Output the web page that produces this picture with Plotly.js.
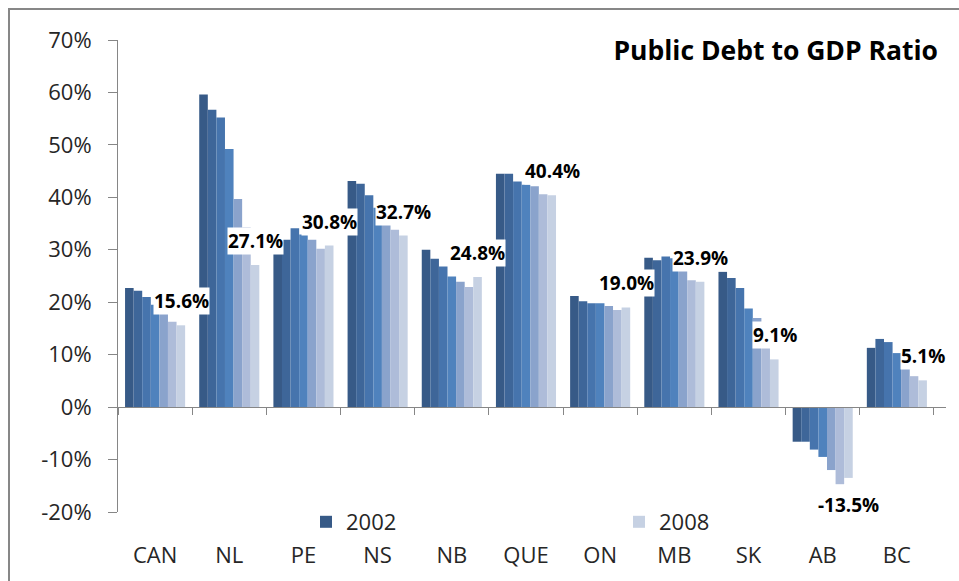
<!DOCTYPE html>
<html>
<head>
<meta charset="utf-8">
<script src="https://cdn.plot.ly/plotly-3.0.1.min.js"></script>
<style>
html,body{margin:0;padding:0;background:#fff;}
#chart{width:959px;height:581px;}
</style>
</head>
<body>
<div id="chart"></div>
<script>
const categories = ['CAN','NL','PE','NS','NB','QUE','ON','MB','SK','AB','BC'];
const years = ['2002','2003','2004','2005','2006','2007','2008'];
const v2002 = [22.7, 59.6, 30.4, 43.1, 30.0, 44.5, 21.2, 28.5, 25.8, -6.6, 11.3];
const v2003 = [22.2, 56.7, 31.9, 42.6, 28.3, 44.5, 20.2, 28.0, 24.6, -6.6, 13.0];
const v2004 = [21.0, 55.2, 34.1, 40.4, 26.8, 43.0, 19.8, 28.7, 22.7, -8.1, 12.4];
const v2005 = [19.5, 49.2, 32.9, 38.0, 24.9, 42.4, 19.8, 28.4, 18.8, -9.5, 10.3];
const v2006 = [18.1, 39.7, 31.9, 35.5, 23.9, 42.1, 19.3, 26.1, 17.0, -12.0, 7.9];
const v2007 = [16.3, 34.3, 30.2, 33.8, 22.9, 40.6, 18.5, 24.2, 14.4, -14.7, 5.9];
const v2008 = [15.6, 27.1, 30.8, 32.7, 24.8, 40.4, 19.0, 23.9, 9.1, -13.5, 5.1];
const yTicks = [-20, -10, 0, 10, 20, 30, 40, 50, 60, 70];
const yTickText = yTicks.map(t => t + '%');

const seriesValues = [v2002, v2003, v2004, v2005, v2006, v2007, v2008];
const colors = ['#375a87','#3e6699','#4674ad','#4f82bd','#8aa3cc','#aebcd9','#c6d1e3'];
const legendShown = [true,false,false,false,false,false,true];

const W = 959, H = 581;
const margin = {l:118, r:13, t:40, b:69};
const pw = W - margin.l - margin.r;
const ph = H - margin.t - margin.b;
const yRange = [-20, 70];
const bargap = 0.19;
const zeroFrac = (0 - yRange[0]) / (yRange[1] - yRange[0]);

const traces = seriesValues.map((vals, i) => ({
  type: 'bar',
  name: years[i],
  x: categories,
  y: vals,
  marker: {color: colors[i], line: {width: 0}},
  showlegend: legendShown[i],
  hoverinfo: 'x+y+name'
}));

// labels on the 2008 series
const catW = pw / categories.length;
const barW = catW * (1 - bargap) / years.length;
const lastShift = barW * (years.length - 1) / 2;
const annotations = categories.map((c, i) => {
  const v = v2008[i];
  return {
    x: c, y: v, xref: 'x', yref: 'y',
    xshift: lastShift,
    yshift: v >= 0 ? 24 : -27,
    text: v.toFixed(1) + '%',
    showarrow: false,
    bgcolor: '#ffffff',
    borderpad: 0,
    font: {family: 'Open Sans, sans-serif', size: 19, color: '#000000', weight: 'bold'}
  };
});

const px2paperX = p => (p - margin.l) / pw;
const px2paperY = p => (H - margin.b - p) / ph;

const layout = {
  width: W, height: H,
  margin: margin,
  paper_bgcolor: '#ffffff',
  plot_bgcolor: '#ffffff',
  font: {family: 'Open Sans, sans-serif', size: 22, color: '#262626'},
  title: {
    text: '<b>Public Debt to GDP Ratio</b>',
    x: 938 / W, xanchor: 'right', xref: 'container',
    y: 1 - 51 / H, yanchor: 'middle', yref: 'container',
    font: {family: 'Open Sans, sans-serif', size: 26.5, color: '#000000'}
  },
  barmode: 'group',
  bargap: bargap,
  bargroupgap: 0,
  xaxis: {
    type: 'category',
    anchor: 'free',
    position: zeroFrac,
    showline: true, linecolor: '#868686', linewidth: 1,
    ticks: 'outside', ticklen: 7, tickcolor: '#868686', tickson: 'boundaries',
    showgrid: false, zeroline: false,
    ticklabelposition: 'outside',
    ticklabelstandoff: Math.round(ph * zeroFrac + 23),
    tickfont: {size: 22, color: '#262626'}
  },
  yaxis: {
    range: yRange,
    tickvals: yTicks,
    ticktext: yTickText,
    showline: true, linecolor: '#868686', linewidth: 1,
    ticks: 'outside', ticklen: 9, tickcolor: '#868686',
    showgrid: false, zeroline: false,
    ticklabelstandoff: 12,
    tickfont: {size: 22, color: '#262626'}
  },
  legend: {
    orientation: 'h',
    x: px2paperX(306), xanchor: 'left',
    y: px2paperY(522), yanchor: 'middle',
    entrywidth: 268, entrywidthmode: 'pixels',
    font: {size: 22, color: '#262626'},
    bgcolor: 'rgba(0,0,0,0)',
    traceorder: 'normal'
  },
  annotations: annotations,
  shapes: [{
    type: 'rect', xref: 'paper', yref: 'paper',
    x0: px2paperX(9), x1: px2paperX(990),
    y0: px2paperY(620), y1: px2paperY(9),
    line: {color: '#878787', width: 2},
    fillcolor: 'rgba(0,0,0,0)',
    layer: 'below'
  }]
};

Plotly.newPlot('chart', traces, layout, {displayModeBar: false, staticPlot: true});
</script>
</body>
</html>
